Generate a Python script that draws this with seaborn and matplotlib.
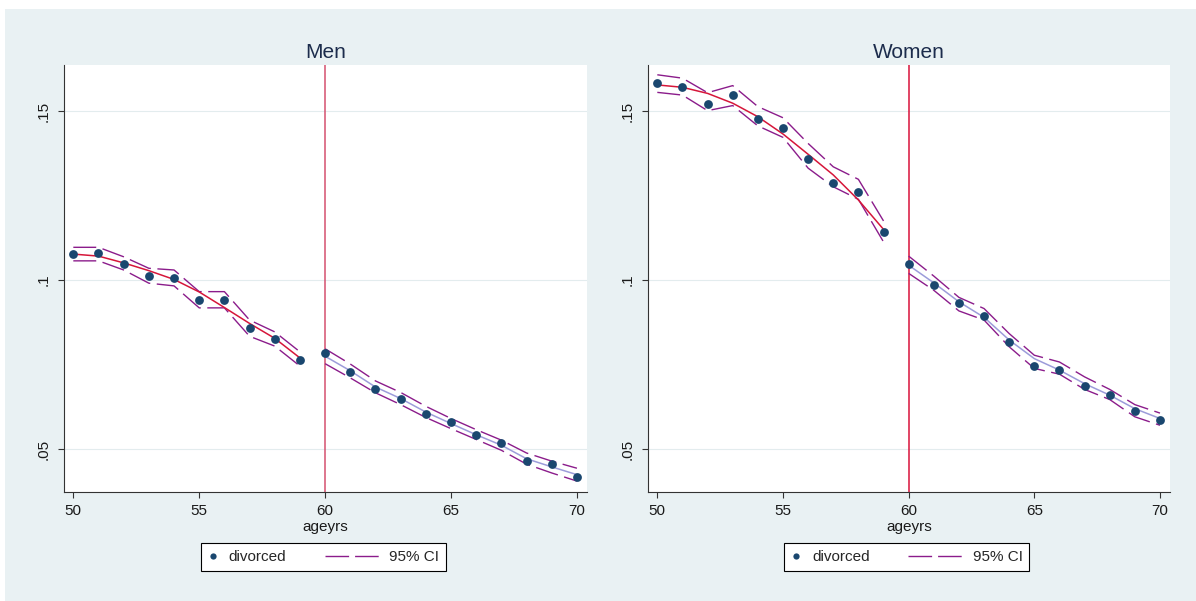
import numpy as np
import pandas as pd
import matplotlib
matplotlib.use("Agg")
import matplotlib.pyplot as plt
import seaborn as sns
from matplotlib.lines import Line2D
from matplotlib.patches import Rectangle
from matplotlib.legend_handler import HandlerLine2D

# ages before / after the cutoff at 60
ages_pre = list(range(50, 60))
ages_post = list(range(60, 71))

# share divorced by age
men_rate = [0.1077, 0.1079, 0.1049, 0.1013, 0.1007, 0.0942, 0.0942, 0.0859, 0.0826, 0.0765,
            0.0784, 0.0728, 0.0677, 0.0649, 0.0604, 0.0580, 0.0541, 0.0518, 0.0465, 0.0457, 0.0418]
women_rate = [0.1582, 0.1571, 0.1522, 0.1546, 0.1475, 0.1450, 0.1358, 0.1287, 0.1260, 0.1143,
              0.1047, 0.0987, 0.0931, 0.0893, 0.0816, 0.0746, 0.0734, 0.0687, 0.0659, 0.0612, 0.0588]

# fitted line and 95% CI, left and right of 60
men_fit_pre = [0.1077, 0.1071, 0.1051, 0.1028, 0.1002, 0.0965, 0.0919, 0.0872, 0.0828, 0.0770]
men_hi_pre = [0.1097, 0.1097, 0.1069, 0.1035, 0.1030, 0.0966, 0.0966, 0.0882, 0.0847, 0.0788]
men_lo_pre = [0.1057, 0.1057, 0.1030, 0.0991, 0.0983, 0.0918, 0.0918, 0.0834, 0.0805, 0.0746]
men_fit_post = [0.0775, 0.0732, 0.0684, 0.0650, 0.0610, 0.0576, 0.0543, 0.0512, 0.0472, 0.0448, 0.0425]
men_hi_post = [0.0797, 0.0752, 0.0702, 0.0668, 0.0627, 0.0591, 0.0558, 0.0527, 0.0489, 0.0465, 0.0444]
men_lo_post = [0.0753, 0.0711, 0.0667, 0.0632, 0.0594, 0.0561, 0.0529, 0.0497, 0.0456, 0.0430, 0.0406]

women_fit_pre = [0.1577, 0.1570, 0.1552, 0.1523, 0.1483, 0.1432, 0.1372, 0.1311, 0.1237, 0.1150]
women_hi_pre = [0.1607, 0.1597, 0.1554, 0.1575, 0.1513, 0.1480, 0.1404, 0.1335, 0.1298, 0.1175]
women_lo_pre = [0.1555, 0.1547, 0.1501, 0.1516, 0.1456, 0.1422, 0.1331, 0.1276, 0.1239, 0.1113]
women_fit_post = [0.1044, 0.0992, 0.0936, 0.0890, 0.0823, 0.0768, 0.0734, 0.0694, 0.0660, 0.0620, 0.0591]
women_hi_post = [0.1071, 0.1012, 0.0949, 0.0916, 0.0842, 0.0778, 0.0758, 0.0714, 0.0677, 0.0632, 0.0607]
women_lo_post = [0.1020, 0.0970, 0.0909, 0.0882, 0.0803, 0.0739, 0.0722, 0.0677, 0.0647, 0.0596, 0.0571]

xticks = [50, 55, 60, 65, 70]
yticks = [0.05, 0.1, 0.15]
ytick_labels = ['.05', '.1', '.15']
cutoff = 60

NAVY = '#1A476F'
CI_COL = '#8B1C8B'
FIT_PRE = '#D6163A'
FIT_POST = '#9C9CDA'
BG = '#E9F1F3'
TITLE_COL = '#1C2C4C'

sns.set_style("white")
plt.rcParams['font.family'] = ['Liberation Sans', 'DejaVu Sans']


class WideLine(HandlerLine2D):
    # longer line handle that reaches left into the column gap
    def get_xdata(self, legend, xdescent, ydescent, width, height, fontsize):
        xd = np.array([width - 38.5, width + 3.2])
        return xd, xd


fig = plt.figure(figsize=(11.96, 6.01), dpi=100)
fig.patch.set_facecolor('white')
fig.add_artist(Rectangle((5 / 1196, 0), 1, 592 / 601, transform=fig.transFigure,
                         facecolor=BG, edgecolor='none', zorder=-10))

ax_m = fig.add_axes([0.0533, 0.1819, 0.4373, 0.7100])
ax_w = fig.add_axes([0.5416, 0.1819, 0.4365, 0.7100])

panels = [
    (ax_m, "Men", men_rate, men_fit_pre, men_hi_pre, men_lo_pre,
     men_fit_post, men_hi_post, men_lo_post, '#D4516F'),
    (ax_w, "Women", women_rate, women_fit_pre, women_hi_pre, women_lo_pre,
     women_fit_post, women_hi_post, women_lo_post, '#D9123A'),
]

dash = (0, (16.5, 4.7))

for ax, title, rate, fpre, hpre, lpre, fpost, hpost, lpost, vcol in panels:
    ax.set_facecolor('white')
    ax.axvline(cutoff, color=vcol, lw=1.1, zorder=2)

    for xs, ys in [(ages_pre, hpre), (ages_pre, lpre), (ages_post, hpost), (ages_post, lpost)]:
        sns.lineplot(x=xs, y=ys, ax=ax, color=CI_COL, lw=1.0, linestyle=dash,
                     estimator=None, sort=False, zorder=3)
    sns.lineplot(x=ages_pre, y=fpre, ax=ax, color=FIT_PRE, lw=1.1,
                 estimator=None, sort=False, zorder=4)
    sns.lineplot(x=ages_post, y=fpost, ax=ax, color=FIT_POST, lw=1.1,
                 estimator=None, sort=False, zorder=4)

    df = pd.DataFrame({'ageyrs': ages_pre + ages_post, 'divorced': rate})
    sns.scatterplot(data=df, x='ageyrs', y='divorced', ax=ax, color=NAVY,
                    s=40, linewidth=0, zorder=5, legend=False)

    ax.set_xlim(49.62, 70.39)
    ax.set_ylim(0.03747, 0.1636)
    ax.set_xticks(xticks)
    ax.set_yticks(yticks)
    ax.set_yticklabels(ytick_labels, rotation=90, va='center')
    ax.tick_params(bottom=True, left=True, direction='out', length=4.2, width=0.8,
                   color='#333333', labelsize=11, labelcolor='#1a1a1a', pad=5)
    ax.yaxis.grid(True, color='#E3ECEE', lw=0.8)
    ax.xaxis.grid(False)
    ax.set_axisbelow(True)
    for side in ['top', 'right']:
        ax.spines[side].set_visible(False)
    for side in ['left', 'bottom']:
        ax.spines[side].set_color('#333333')
        ax.spines[side].set_linewidth(0.8)

    ax.set_xlabel('ageyrs', fontsize=11, color='#1a1a1a', labelpad=1)
    ax.set_ylabel('')
    ax.set_title(title, fontsize=15, color=TITLE_COL, pad=5)

    handles = [Line2D([], [], marker='o', ls='none', color=NAVY, markersize=4.5, markeredgewidth=0),
               Line2D([], [], color=CI_COL, lw=1.0, ls=(0, (17, 4.3)))]
    leg = ax.legend(handles, ['divorced', '95% CI'], ncol=2, loc='upper left',
                    bbox_to_anchor=(0.2615, -0.121), borderaxespad=0, frameon=True,
                    fancybox=False, edgecolor='black', framealpha=1, fontsize=11,
                    handlelength=0.7, handletextpad=0.7, columnspacing=5.3, borderpad=0.45,
                    handler_map={handles[1]: WideLine()})
    leg.get_frame().set_linewidth(0.8)

fig.savefig('out.png', dpi=100, facecolor=fig.get_facecolor())
